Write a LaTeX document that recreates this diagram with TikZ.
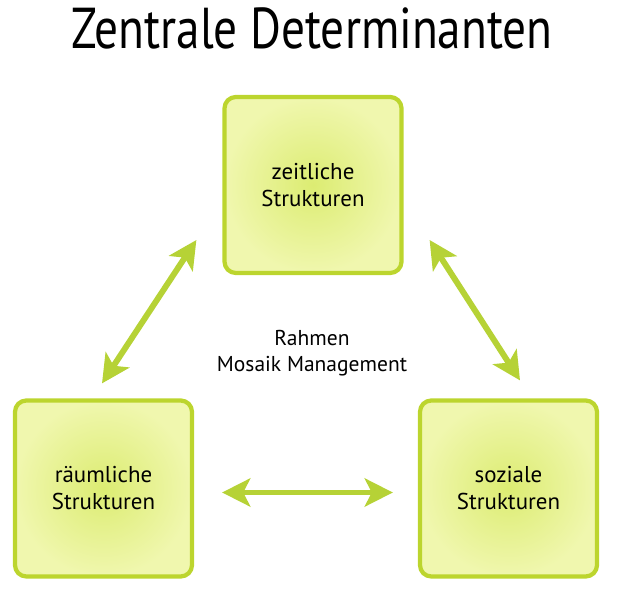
\documentclass[tikz,border=0pt]{standalone}
\usepackage{fontspec}
\setmainfont{PT Sans}
\newfontfamily\dinfont[FakeStretch=0.82]{PT Sans}
\usetikzlibrary{arrows.meta}
\definecolor{limerand}{HTML}{BCD52E}
\definecolor{limepfeil}{HTML}{B6D236}
\definecolor{limehell}{HTML}{F0F7AE}
\definecolor{limemitte}{HTML}{DCEC72}
\begin{document}
\begin{tikzpicture}[x=0.025cm,y=0.025cm,line cap=round,line join=round,font=\dinfont,
  feld/.style={draw=limerand,line width=3pt,rounded corners=8pt,inner color=limemitte,
    outer color=limehell,minimum width=177*0.025cm,minimum height=176*0.025cm,
    align=center,font=\fontsize{16.3}{19.2}\selectfont},
  doppelpfeil/.style={limepfeil,line width=4.2pt,
    {Stealth[length=20pt,width=20pt,inset=5pt]}-{Stealth[length=20pt,width=20pt,inset=5pt]}}]
  \useasboundingbox (0,0) rectangle (620,600);
  \node (titel) at (312,572) {\fontsize{41}{48}\selectfont Zentrale Determinanten};
  \node[feld] (zs) at (313,415) {zeitliche\\Strukturen};
  \node[feld] (rs) at (103.5,111.5) {räumliche\\Strukturen};
  \node[feld] (ss) at (508.5,111.5) {soziale\\Strukturen};
  \node[align=center,font=\fontsize{15.3}{18.5}\selectfont] (mitte) at (312,247) {Rahmen\\Mosaik Management};
  \draw[doppelpfeil] ([shift={(-1.5,15)}]rs.north) -- ([shift={(-26,-55)}]zs.west);
  \draw[doppelpfeil] ([shift={(26,-55)}]zs.east) -- ([shift={(11.5,18)}]ss.north);
  \draw[doppelpfeil] ([shift={(28,-4)}]rs.east) -- ([shift={(-25,-4)}]ss.west);
\end{tikzpicture}
\end{document}
